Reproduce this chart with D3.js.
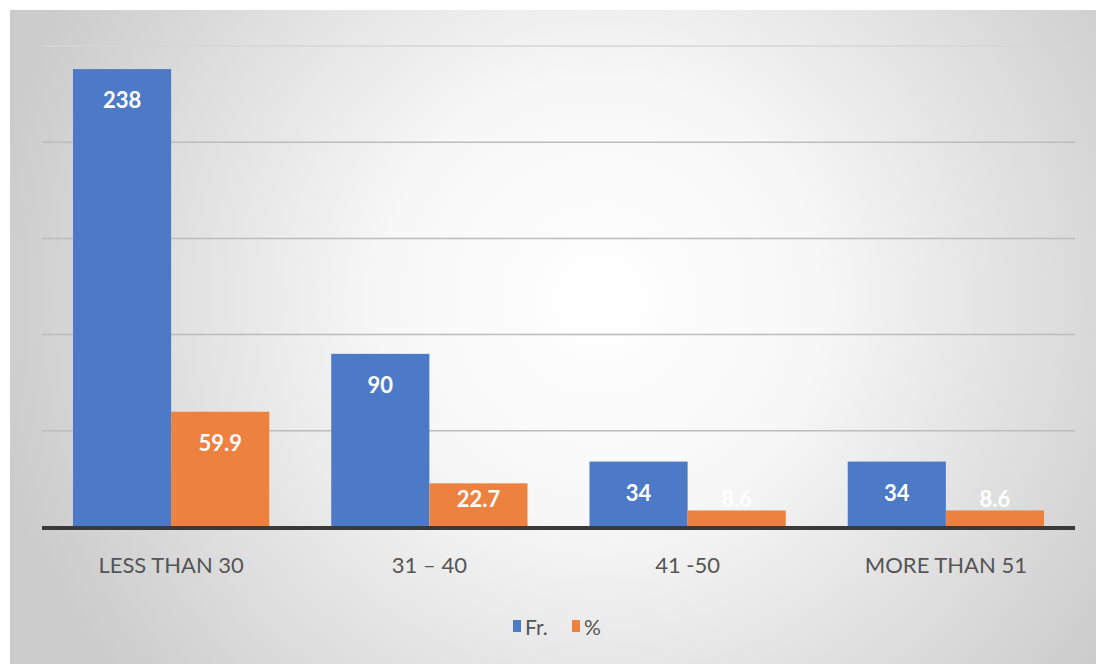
<!DOCTYPE html>
<html>
<head>
<meta charset="utf-8">
<script src="https://cdn.jsdelivr.net/npm/d3@7"></script>
<style>
  body { margin: 0; background: #fff; }
  text { font-family: Lato, "Open Sans", sans-serif; }
</style>
</head>
<body>
<div id="chart"></div>
<script>
// datos
const categories = ["LESS THAN 30", "31 – 40", "41 -50", "MORE THAN 51"];
const seriesNames = ["Fr.", "%"];
const freqValues = [238, 90, 34, 34];
const pctValues = [59.9, 22.7, 8.6, 8.6];
const yTicks = [0, 50, 100, 150, 200, 250];

const width = 1096;
const height = 664;
const colors = ["#4D7AC7", "#ED8140"];

const svg = d3.select("#chart")
    .append("svg")
    .attr("width", width)
    .attr("height", height);

// fondo con degradado radial
const defs = svg.append("defs");
const grad = defs.append("radialGradient")
    .attr("id", "bg")
    .attr("gradientUnits", "userSpaceOnUse")
    .attr("cx", 600).attr("cy", 300).attr("r", 620);
grad.append("stop").attr("offset", "0%").attr("stop-color", "#ffffff");
grad.append("stop").attr("offset", "35%").attr("stop-color", "#f7f7f7");
grad.append("stop").attr("offset", "100%").attr("stop-color", "#cbcbcb");

svg.append("rect")
    .attr("x", 10).attr("y", 10)
    .attr("width", width - 10).attr("height", height - 10)
    .attr("fill", "url(#bg)");

const margin = { left: 42, right: 21, top: 44, bottom: 527 };

const x = d3.scaleBand()
    .domain(categories)
    .range([margin.left, width - margin.right]);

const y = d3.scaleLinear()
    .domain([0, 250])
    .range([margin.bottom, 46]);

// líneas de cuadrícula
svg.append("g")
    .selectAll("line")
    .data(yTicks.filter(d => d > 0))
    .enter().append("line")
    .attr("x1", margin.left)
    .attr("x2", width - margin.right)
    .attr("y1", d => y(d))
    .attr("y2", d => y(d))
    .attr("stroke", d => d === 250 ? "#d6d6d6" : "#bcbcbc")
    .attr("stroke-width", 1.5);

const barW = x.bandwidth() * 0.38;

const rows = categories.map((c, i) => ({ cat: c, vals: [freqValues[i], pctValues[i]] }));

const groups = svg.append("g")
    .selectAll("g")
    .data(rows)
    .enter().append("g")
    .attr("transform", d => `translate(${x(d.cat) + x.bandwidth() / 2 - barW},0)`);

groups.selectAll("rect")
    .data(d => d.vals)
    .enter().append("rect")
    .attr("x", (d, i) => i * barW)
    .attr("y", d => y(d))
    .attr("width", barW)
    .attr("height", d => y(0) - y(d))
    .attr("fill", (d, i) => colors[i]);

groups.selectAll("text")
    .data(d => d.vals)
    .enter().append("text")
    .attr("x", (d, i) => i * barW + barW / 2)
    .attr("y", d => Math.min(y(d) + 39, y(0) - 20))
    .attr("text-anchor", "middle")
    .attr("fill", "#ffffff")
    .attr("font-weight", "bold")
    .attr("font-size", 22)
    .text(d => d);

// eje base
svg.append("line")
    .attr("x1", margin.left)
    .attr("x2", width - margin.right)
    .attr("y1", y(0) + 1)
    .attr("y2", y(0) + 1)
    .attr("stroke", "#3a3a3a")
    .attr("stroke-width", 4);

// etiquetas del eje x
const xAxis = svg.append("g")
    .attr("transform", `translate(0,${y(0) + 3})`)
    .call(d3.axisBottom(x).tickSize(0).tickPadding(27));
xAxis.select(".domain").remove();
xAxis.selectAll("text")
    .attr("font-family", "Lato, sans-serif")
    .attr("font-size", 22)
    .attr("fill", "#555555");

// leyenda
const legend = svg.append("g").attr("transform", "translate(513,628)");
const legX = [0, 59];
seriesNames.forEach((n, i) => {
    legend.append("rect")
        .attr("x", legX[i]).attr("y", -8)
        .attr("width", 8).attr("height", 12)
        .attr("fill", colors[i]);
    legend.append("text")
        .attr("x", legX[i] + 12).attr("y", 7)
        .attr("font-size", 21)
        .attr("fill", "#555555")
        .text(n);
});
</script>
</body>
</html>
